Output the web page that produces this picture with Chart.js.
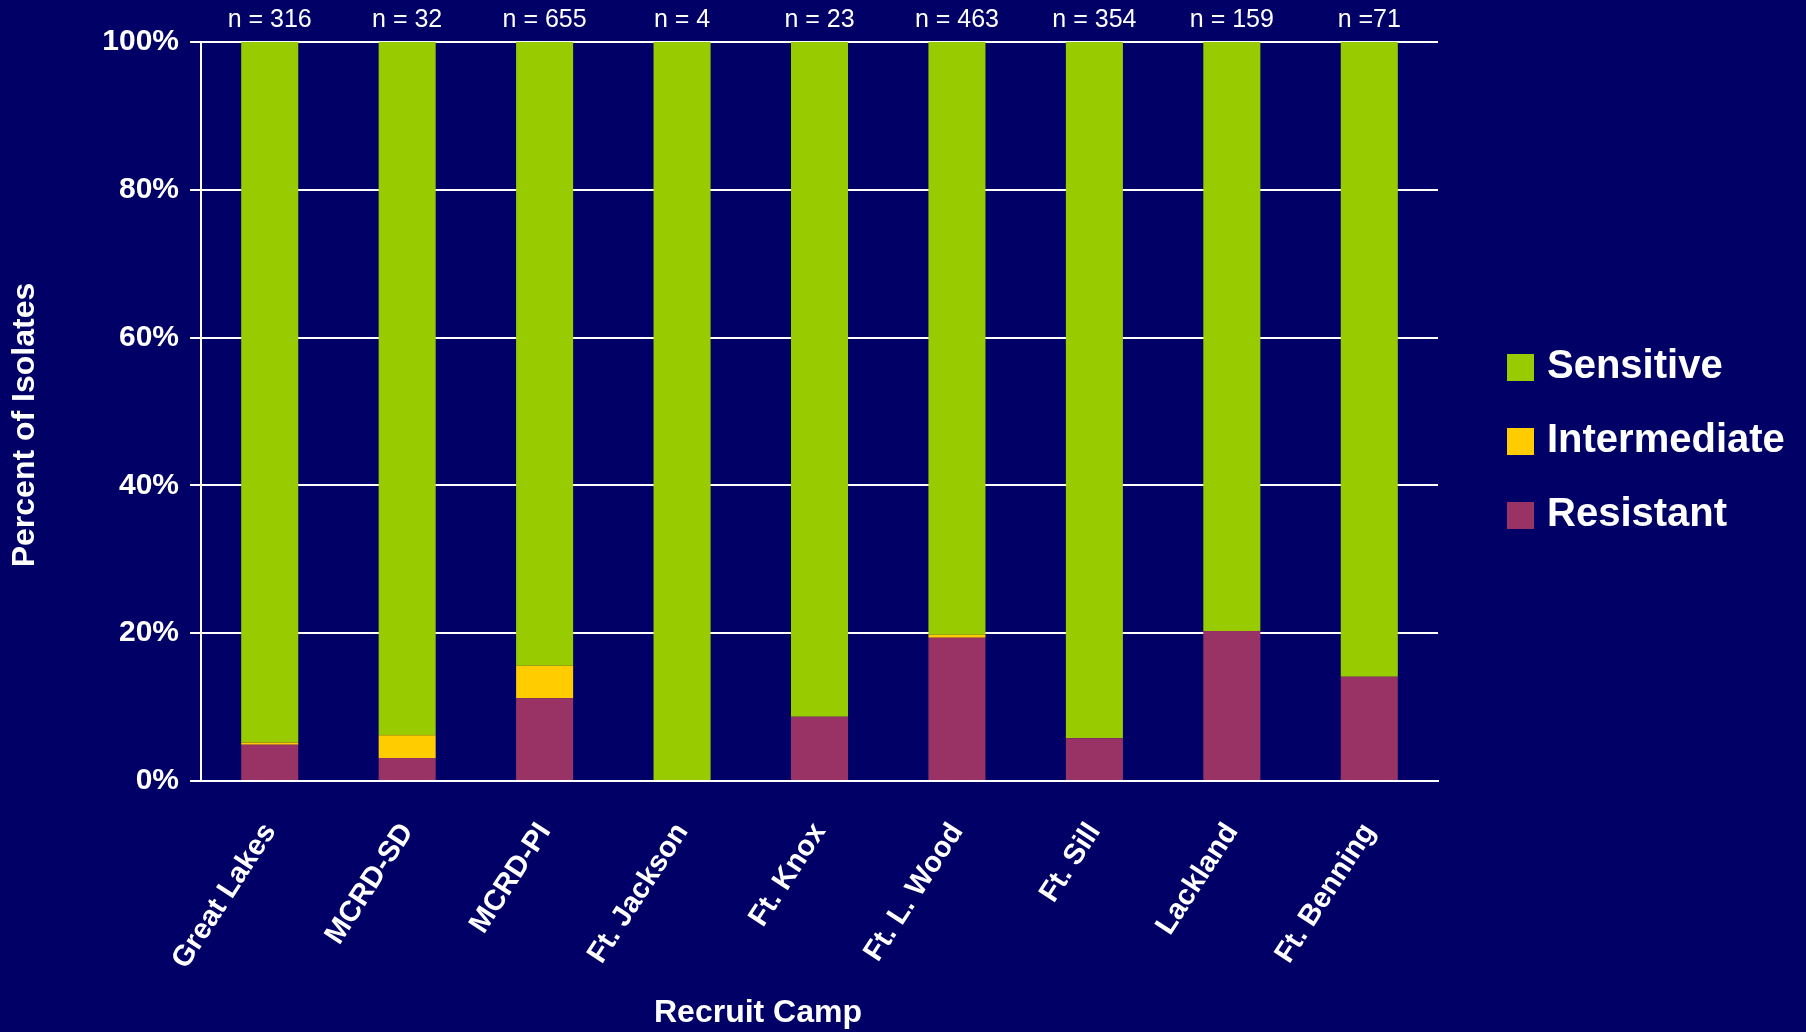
<!DOCTYPE html>
<html>
<head>
<meta charset="utf-8">
<script src="https://cdn.jsdelivr.net/npm/chart.js@4.4.1/dist/chart.umd.min.js"></script>
<style>
  html, body { margin: 0; padding: 0; background: #000066; }
  canvas { display: block; }
</style>
</head>
<body>
<canvas id="grafico" width="1806" height="1032"></canvas>
<script>
const campos = ['Great Lakes', 'MCRD-SD', 'MCRD-PI', 'Ft. Jackson', 'Ft. Knox', 'Ft. L. Wood', 'Ft. Sill', 'Lackland', 'Ft. Benning'];
const conteos = ['n = 316', 'n = 32', 'n = 655', 'n = 4', 'n = 23', 'n = 463', 'n = 354', 'n = 159', 'n =71'];
const resistente = [4.9, 3.1, 11.2, 0, 8.7, 19.4, 5.8, 20.3, 14.1];
const intermedio = [0.3, 3.1, 4.4, 0, 0, 0.4, 0, 0, 0];
const sensible = [94.8, 93.8, 84.4, 100, 91.3, 80.2, 94.2, 79.7, 85.9];
const ticksY = [0, 20, 40, 60, 80, 100];

const fuente = '"Liberation Sans", Arial, sans-serif';

// n = ... arriba de las barras, titulos de ejes y leyenda
const textosExtra = {
    id: 'textosExtra',
    afterDraw(chart) {
        const { ctx, scales: { x }, chartArea } = chart;
        ctx.save();
        ctx.fillStyle = '#ffffff';
        ctx.textAlign = 'center';
        ctx.textBaseline = 'middle';
        ctx.font = '25px ' + fuente;
        conteos.forEach((t, i) => {
            ctx.fillText(t, x.getPixelForValue(i), chartArea.top - 22);
        });

        ctx.font = 'bold 32px ' + fuente;
        ctx.fillText('Recruit Camp', 758, 1013);

        ctx.save();
        ctx.translate(25, 425);
        ctx.rotate(-Math.PI / 2);
        ctx.fillText('Percent of Isolates', 0, 0);
        ctx.restore();

        // leyenda (de arriba hacia abajo: Sensitive, Intermediate, Resistant)
        ctx.textAlign = 'left';
        ctx.font = 'bold 40px ' + fuente;
        const items = chart.data.datasets.slice().reverse();
        items.forEach((ds, i) => {
            const cy = 367 + i * 74;
            ctx.fillStyle = ds.backgroundColor;
            ctx.fillRect(1507, cy - 13, 27, 27);
            ctx.fillStyle = '#ffffff';
            ctx.fillText(ds.label, 1547, cy);
        });
        ctx.restore();
    }
};

const ctx = document.getElementById('grafico').getContext('2d');

new Chart(ctx, {
    type: 'bar',
    data: {
        labels: campos,
        datasets: [
            { label: 'Resistant', data: resistente, backgroundColor: '#993366' },
            { label: 'Intermediate', data: intermedio, backgroundColor: '#FFCC00' },
            { label: 'Sensitive', data: sensible, backgroundColor: '#99CC00' }
        ]
    },
    options: {
        responsive: false,
        animation: false,
        layout: { padding: { top: 42, right: 368, left: 0, bottom: 0 } },
        datasets: { bar: { barPercentage: 0.415, categoryPercentage: 1 } },
        plugins: {
            legend: { display: false },
            tooltip: { enabled: false }
        },
        scales: {
            x: {
                stacked: true,
                grid: { display: false },
                border: { color: '#ffffff', width: 2 },
                ticks: {
                    color: '#ffffff',
                    font: { family: fuente, size: 29, weight: 'bold' },
                    maxRotation: 57,
                    minRotation: 57,
                    padding: 28,
                    autoSkip: false
                },
                afterFit(scale) { scale.height = 251; }
            },
            y: {
                stacked: true,
                min: 0,
                max: 100,
                afterBuildTicks(scale) { scale.ticks = ticksY.map(v => ({ value: v })); },
                ticks: {
                    color: '#ffffff',
                    font: { family: fuente, size: 30, weight: 'bold' },
                    padding: 11,
                    callback: v => v + '%'
                },
                grid: { color: '#ffffff', lineWidth: 2, tickLength: 11 },
                border: { color: '#ffffff', width: 2 },
                afterFit(scale) { scale.width = 201; }
            }
        }
    },
    plugins: [textosExtra]
});
</script>
</body>
</html>
